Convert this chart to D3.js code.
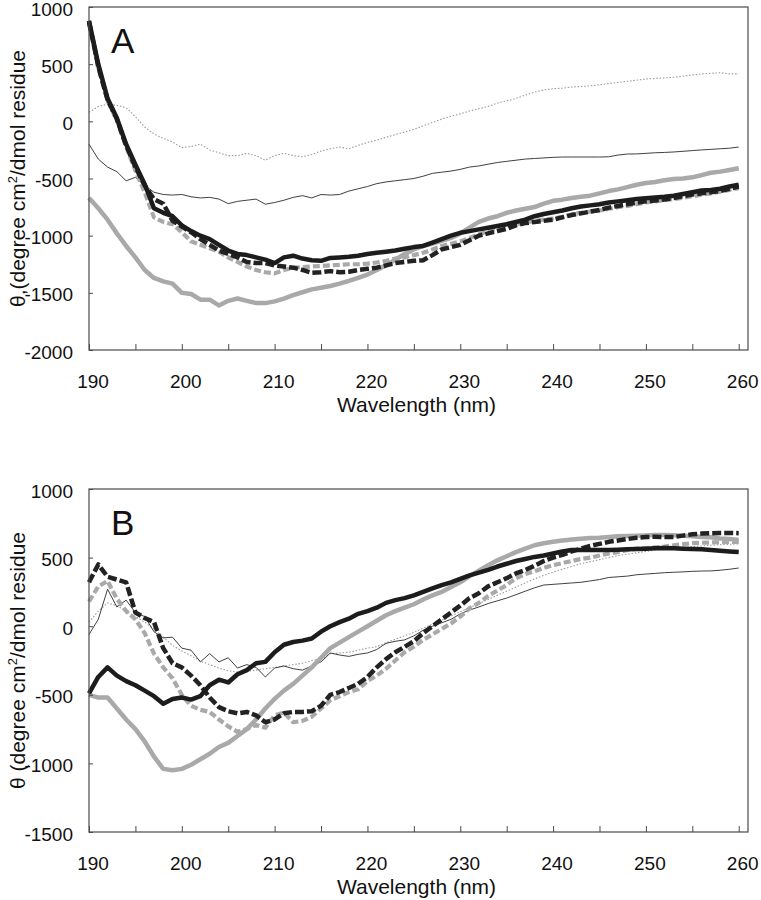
<!DOCTYPE html>
<html>
<head>
<meta charset="utf-8">
<script src="https://cdn.jsdelivr.net/npm/d3@7"></script>
<style>
  html, body { margin: 0; padding: 0; background: #fff; }
  svg { display: block; }
  text { font-family: "Liberation Sans", Arial, Helvetica, sans-serif; fill: #111; }
</style>
</head>
<body>
<svg id="chart" width="761" height="900"></svg>
<script>
// ---- data ----
const wavelength = d3.range(190, 261, 1);
const xTickValues = d3.range(190, 261, 5);
const xTickLabels = [190, 200, 210, 220, 230, 240, 250, 260];
const yTicksA = [1000, 500, 0, -500, -1000, -1500, -2000];
const yTicksB = [1000, 500, 0, -500, -1000, -1500];

// Panel A series
const aDottedGray = [80,130,150,140,120,40,-50,-110,-150,-180,-230,-220,-200,-250,-275,-300,-300,-280,-300,-340,-300,-280,-300,-310,-290,-260,-240,-225,-240,-210,-185,-165,-140,-115,-95,-70,-40,-10,20,45,65,90,110,130,160,180,200,230,255,275,285,290,300,305,310,320,330,340,350,360,370,375,380,385,395,405,415,420,425,415,415];
const aThinBlack = [-200,-330,-400,-440,-520,-490,-560,-620,-640,-645,-640,-660,-670,-665,-680,-720,-700,-690,-680,-725,-710,-690,-665,-650,-670,-640,-645,-640,-610,-590,-570,-545,-530,-520,-510,-500,-480,-455,-445,-435,-420,-400,-390,-375,-360,-350,-340,-330,-325,-320,-315,-312,-312,-312,-312,-312,-310,-295,-286,-285,-280,-275,-272,-268,-262,-256,-250,-245,-240,-235,-225];
const aThickGray = [-670,-760,-860,-980,-1090,-1190,-1300,-1370,-1400,-1420,-1500,-1510,-1560,-1560,-1610,-1570,-1550,-1570,-1590,-1590,-1575,-1550,-1520,-1495,-1470,-1455,-1440,-1420,-1395,-1370,-1340,-1300,-1260,-1210,-1160,-1120,-1090,-1070,-1045,-1020,-980,-930,-880,-850,-830,-800,-780,-765,-750,-720,-695,-685,-670,-660,-650,-630,-610,-595,-575,-555,-540,-530,-515,-505,-500,-490,-470,-450,-440,-425,-410];
const aThickBlack = [880,500,200,30,-200,-380,-550,-760,-800,-830,-910,-960,-1000,-1030,-1080,-1130,-1160,-1170,-1190,-1210,-1240,-1190,-1175,-1200,-1215,-1220,-1195,-1190,-1185,-1175,-1160,-1150,-1140,-1130,-1115,-1100,-1090,-1060,-1030,-1000,-975,-960,-945,-930,-915,-900,-880,-860,-830,-810,-795,-780,-760,-745,-735,-725,-710,-700,-690,-680,-672,-666,-660,-650,-635,-620,-605,-600,-590,-570,-555];
const aDashedBlack = [870,480,190,20,-210,-400,-560,-680,-720,-870,-920,-970,-1030,-1080,-1130,-1160,-1190,-1230,-1240,-1240,-1260,-1270,-1280,-1300,-1325,-1320,-1310,-1320,-1315,-1300,-1290,-1280,-1260,-1240,-1230,-1220,-1215,-1170,-1120,-1100,-1080,-1040,-1000,-980,-960,-940,-910,-890,-880,-870,-860,-840,-820,-805,-790,-775,-755,-740,-725,-712,-700,-692,-683,-670,-655,-640,-630,-620,-610,-590,-570];
const aDashedGray = [860,470,180,10,-220,-430,-620,-840,-880,-900,-970,-1050,-1080,-1110,-1140,-1190,-1230,-1270,-1300,-1320,-1330,-1300,-1280,-1275,-1270,-1265,-1260,-1255,-1250,-1250,-1245,-1235,-1220,-1200,-1190,-1170,-1150,-1120,-1090,-1070,-1050,-1020,-990,-960,-940,-920,-900,-885,-870,-860,-850,-835,-815,-800,-790,-780,-765,-750,-740,-725,-710,-700,-690,-680,-668,-655,-642,-630,-615,-600,-585];

// Panel B series
const bThickBlack = [-490,-370,-300,-360,-400,-430,-470,-510,-565,-530,-520,-535,-510,-430,-390,-410,-350,-320,-270,-260,-190,-135,-115,-105,-90,-40,0,30,55,90,110,135,170,190,205,225,250,275,300,320,345,370,390,410,435,455,475,490,505,515,530,545,555,555,555,555,555,558,560,562,565,568,570,568,565,562,560,555,550,545,540];
const bThickGray = [-500,-520,-520,-600,-680,-750,-840,-950,-1040,-1050,-1040,-1010,-970,-930,-880,-850,-800,-750,-680,-600,-530,-470,-420,-360,-300,-230,-160,-120,-80,-40,0,40,80,110,135,160,195,225,250,285,320,365,405,445,480,510,540,565,590,605,615,625,632,638,642,645,650,655,658,660,662,665,665,663,660,655,650,648,640,635,628];
const bDashedBlack = [320,450,360,340,320,100,60,30,-160,-270,-300,-360,-430,-520,-590,-620,-635,-625,-650,-700,-680,-635,-625,-625,-620,-580,-500,-480,-450,-420,-370,-300,-240,-190,-150,-110,-50,0,50,100,150,205,240,290,320,350,385,410,440,475,500,520,545,565,585,600,615,625,635,645,650,652,650,650,660,670,675,678,680,680,678];
const bDashedGray = [180,290,330,200,110,50,-50,-200,-300,-380,-500,-580,-610,-625,-680,-730,-770,-750,-720,-740,-650,-630,-700,-690,-660,-600,-540,-510,-480,-460,-400,-360,-310,-250,-190,-150,-100,-60,-20,20,70,130,170,220,260,300,350,380,400,425,445,460,475,490,500,515,530,540,555,565,570,575,580,590,598,605,608,610,612,614,615];
const bThinBlack = [-60,50,270,140,190,100,70,-40,-85,-80,-160,-175,-260,-200,-260,-230,-305,-280,-300,-370,-305,-290,-310,-320,-290,-260,-195,-210,-220,-205,-195,-170,-125,-110,-100,-70,-30,0,25,50,90,118,140,165,185,205,230,255,280,300,305,310,315,320,330,340,355,360,365,375,380,385,390,393,396,400,402,403,408,415,424];
const bDottedGray = [30,110,170,150,110,70,30,-20,-80,-140,-180,-215,-255,-280,-305,-325,-335,-330,-320,-310,-300,-290,-280,-270,-250,-240,-200,-195,-190,-175,-160,-150,-120,-95,-70,-45,-15,15,45,75,105,135,165,195,225,255,285,315,345,370,395,415,435,455,470,485,500,515,525,535,545,555,562,568,574,580,585,590,594,597,600];

// ---- styles ----
const styles = {
  dottedGray: { stroke: "#9a9a9a", width: 1.1, dash: "1.5,1.8" },
  thinBlack:  { stroke: "#2a2a2a", width: 0.9, dash: null },
  thickGray:  { stroke: "#a9a9a9", width: 4.5, dash: null },
  dashedGray: { stroke: "#a9a9a9", width: 4.2, dash: "7,3" },
  dashedBlack:{ stroke: "#222", width: 4.5, dash: "9,3" },
  thickBlack: { stroke: "#1c1c1c", width: 4.5, dash: null }
};

const svg = d3.select("#chart");
const left = 89, right = 748;

function panel(cfg) {
  const x = d3.scaleLinear().domain([190, 261]).range([left, right]);
  const y = d3.scaleLinear().domain(cfg.yDomain).range([cfg.bottom, cfg.top]);
  const g = svg.append("g");

  // series
  const line = d3.line().x((d, i) => x(wavelength[i])).y(d => y(d));
  cfg.series.forEach(s => {
    const st = styles[s.style];
    g.append("path")
      .attr("d", line(s.values))
      .attr("fill", "none")
      .attr("stroke", st.stroke)
      .attr("stroke-width", st.width)
      .attr("stroke-dasharray", st.dash)
      .attr("stroke-linejoin", "round");
  });

  // frame
  g.append("rect")
    .attr("x", left).attr("y", cfg.top)
    .attr("width", right - left).attr("height", cfg.bottom - cfg.top)
    .attr("fill", "none").attr("stroke", "#4a4a4a").attr("stroke-width", 1.2);

  // x axis (ticks inward)
  const xAxis = d3.axisBottom(x).tickValues(xTickValues).tickSizeInner(-6).tickSizeOuter(0).tickFormat("");
  const gx = g.append("g").attr("transform", `translate(0,${cfg.bottom})`).call(xAxis);
  gx.select(".domain").remove();
  gx.selectAll(".tick line").attr("stroke", "#4a4a4a");
  g.selectAll(".xlab").data(xTickLabels).enter().append("text")
    .attr("x", d => x(d) + 4).attr("y", cfg.bottom + 38)
    .attr("text-anchor", "middle").attr("font-size", 19).text(d => d);

  // y axis (ticks inward)
  const yAxis = d3.axisLeft(y).tickValues(cfg.yTicks).tickSizeInner(-4).tickSizeOuter(0).tickFormat("");
  const gy = g.append("g").attr("transform", `translate(${left},0)`).call(yAxis);
  gy.select(".domain").remove();
  gy.selectAll(".tick line").attr("stroke", "#4a4a4a");
  g.selectAll(".ylab").data(cfg.yTicks).enter().append("text")
    .attr("x", 73).attr("y", d => y(d)).attr("dy", "0.45em")
    .attr("text-anchor", "end").attr("font-size", 19).text(d => d);

  // x title
  g.append("text").attr("x", (left + right) / 2 - 2).attr("y", cfg.bottom + 62)
    .attr("text-anchor", "middle").attr("font-size", 21).text("Wavelength (nm)");

  // y title
  const cy = (cfg.top + cfg.bottom) / 2;
  const t = g.append("text").attr("transform", `translate(25,${cy}) rotate(-90)`)
    .attr("text-anchor", "middle").attr("font-size", 21);
  t.append("tspan").text(cfg.yTitlePrefix + "(degree cm");
  t.append("tspan").attr("font-size", 13).attr("dy", -8).text("2");
  t.append("tspan").attr("dy", 8).text("/dmol residue");

  // panel letter
  g.append("text").attr("x", 111).attr("y", cfg.top + 46)
    .attr("font-size", 35).text(cfg.letter);
}

panel({
  top: 7, bottom: 350, yDomain: [-2000, 1000], yTicks: yTicksA, letter: "A", yTitlePrefix: "θ,",
  series: [
    { values: aDottedGray, style: "dottedGray" },
    { values: aThinBlack, style: "thinBlack" },
    { values: aThickGray, style: "thickGray" },
    { values: aDashedGray, style: "dashedGray" },
    { values: aDashedBlack, style: "dashedBlack" },
    { values: aThickBlack, style: "thickBlack" }
  ]
});

panel({
  top: 489, bottom: 832, yDomain: [-1500, 1000], yTicks: yTicksB, letter: "B", yTitlePrefix: "θ ",
  series: [
    { values: bDottedGray, style: "dottedGray" },
    { values: bThinBlack, style: "thinBlack" },
    { values: bThickGray, style: "thickGray" },
    { values: bDashedGray, style: "dashedGray" },
    { values: bDashedBlack, style: "dashedBlack" },
    { values: bThickBlack, style: "thickBlack" }
  ]
});
</script>
</body>
</html>
